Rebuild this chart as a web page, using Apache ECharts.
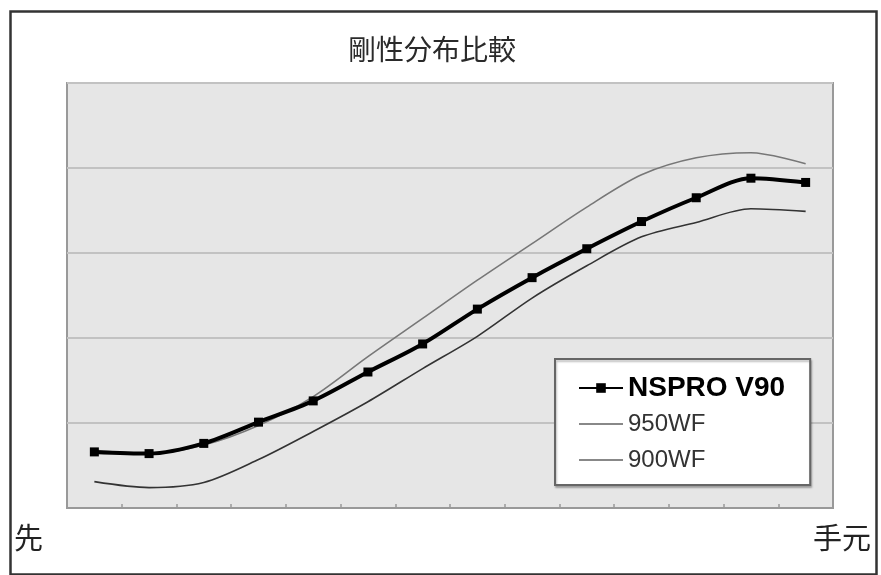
<!DOCTYPE html>
<html>
<head>
<meta charset="utf-8">
<script src="https://cdn.jsdelivr.net/npm/echarts@6/dist/echarts.min.js"></script>
<style>
html,body{margin:0;padding:0;background:#fff;}
#chart{width:881px;height:575px;}
</style>
</head>
<body>
<div id="chart"></div>
<script>
const titleText = '剛性分布比較';
const leftLabel = '先';
const rightLabel = '手元';
const categories = ['1','2','3','4','5','6','7','8','9','10','11','12','13','14'];
const nsproV90 = [0.66, 0.64, 0.76, 1.01, 1.26, 1.60, 1.93, 2.34, 2.71, 3.05, 3.37, 3.65, 3.88, 3.83];
const wf950   = [0.68, 0.64, 0.74, 0.97, 1.31, 1.78, 2.23, 2.68, 3.11, 3.54, 3.92, 4.12, 4.18, 4.05];
const wf900   = [0.31, 0.24, 0.30, 0.57, 0.90, 1.25, 1.64, 2.02, 2.47, 2.85, 3.19, 3.36, 3.52, 3.49];

const chart = echarts.init(document.getElementById('chart'));
const latin = '"Liberation Sans", Arial, Helvetica, sans-serif';
const cjk = '"Noto Sans CJK JP", "Noto Sans CJK SC", sans-serif';

chart.setOption({
  animation: false,
  backgroundColor: '#ffffff',
  title: {
    text: titleText,
    left: 343,
    top: 30,
    textStyle: { fontFamily: cjk, fontSize: 28, fontWeight: 'normal', color: '#2a2a2a' }
  },
  grid: {
    left: 67, right: 48, top: 83, bottom: 67,
    show: true,
    backgroundColor: '#e6e6e6',
    borderColor: '#999',
    borderWidth: 2
  },
  legend: {
    orient: 'vertical',
    left: 555,
    top: 359,
    padding: [12, 25, 8, 23],
    itemGap: 2,
    itemWidth: 44,
    itemHeight: 12,
    backgroundColor: '#ffffff',
    borderColor: '#666',
    borderWidth: 2,
    shadowColor: 'rgba(0,0,0,0.25)',
    shadowOffsetX: 1,
    shadowOffsetY: 2,
    shadowBlur: 2,
    textStyle: { fontFamily: latin, fontSize: 24, lineHeight: 34, color: '#333' },
    data: [
      { name: 'NSPRO V90', textStyle: { fontFamily: latin, fontSize: 28, fontWeight: 'bold', lineHeight: 34, color: '#000' } },
      { name: '950WF', itemStyle: { opacity: 0 }, lineStyle: { color: '#888', width: 2 } },
      { name: '900WF', itemStyle: { opacity: 0 }, lineStyle: { color: '#888', width: 2 } }
    ]
  },
  xAxis: {
    type: 'category',
    data: categories,
    boundaryGap: true,
    axisLine: { show: true, lineStyle: { color: '#999', width: 2 } },
    axisTick: { show: true, inside: true, length: 4, lineStyle: { color: '#999', width: 1.5 } },
    axisLabel: { show: false },
    splitLine: { show: false }
  },
  yAxis: {
    type: 'value',
    min: 0, max: 5, interval: 1,
    axisLine: { show: false },
    axisTick: { show: false },
    axisLabel: { show: false },
    splitLine: { show: true, lineStyle: { color: '#c2c2c2', width: 2 } }
  },
  series: [
    {
      name: '950WF', type: 'line', data: wf950, smooth: 0.3,
      symbol: 'none', z: 2,
      lineStyle: { color: '#777', width: 1.6 },
      itemStyle: { color: '#777' }
    },
    {
      name: '900WF', type: 'line', data: wf900, smooth: 0.3,
      symbol: 'none', z: 2,
      lineStyle: { color: '#333', width: 1.6 },
      itemStyle: { color: '#555' }
    },
    {
      name: 'NSPRO V90', type: 'line', data: nsproV90, smooth: 0.3,
      symbol: 'rect', symbolSize: 9, showSymbol: true, z: 3,
      lineStyle: { color: '#000', width: 4 },
      itemStyle: { color: '#000' }
    }
  ],
  graphic: [
    {
      type: 'rect', left: 8, top: 9, z: 100, silent: true,
      shape: { width: 866, height: 563 },
      style: { fill: 'none', stroke: '#333', lineWidth: 2.5 }
    },
    {
      type: 'text', left: 14, top: 523,
      style: { text: leftLabel, font: '29px ' + cjk, fill: '#222' }
    },
    {
      type: 'text', right: 10, top: 523,
      style: { text: rightLabel, font: '29px ' + cjk, fill: '#222' }
    }
  ]
});
</script>
</body>
</html>
